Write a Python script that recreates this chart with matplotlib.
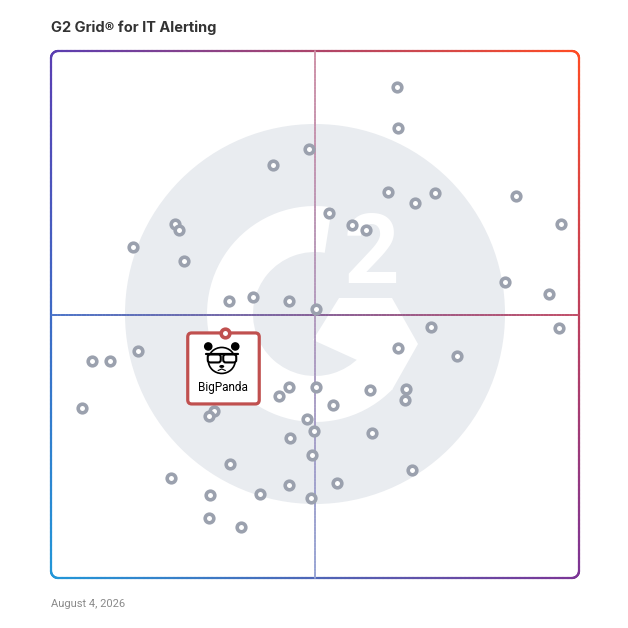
import matplotlib
matplotlib.use("Agg")
import matplotlib.pyplot as plt
import numpy as np
from matplotlib.collections import LineCollection
from matplotlib.patches import Circle, Wedge, Polygon, FancyBboxPatch, Ellipse
from matplotlib.transforms import IdentityTransform

# ---------------- data ----------------
title = "G2 Grid\u00ae for IT Alerting"
date_label = "August 4, 2026"

# x = satisfaction (0-100), y = market presence (0-100)
vendor_x = [65.5, 65.7, 48.9, 42.0, 63.8, 68.9, 72.8, 88.0, 96.6, 52.6,
            57.0, 59.7, 23.5, 24.2, 15.6, 25.1, 85.9, 94.3, 33.7, 38.3,
            45.1, 50.2, 96.2, 72.0, 65.7, 76.8, 16.5, 7.8, 11.2, 5.9,
            45.0, 43.1, 50.2, 60.5, 67.2, 67.1, 53.5, 30.9, 29.9, 48.4,
            49.9, 45.2, 60.8, 49.4, 33.9, 68.3, 22.8, 45.1, 54.2, 30.1,
            39.6, 49.2, 29.9, 36.0]
vendor_y = [93.2, 85.4, 81.4, 78.4, 73.3, 71.2, 73.1, 72.5, 67.2, 69.3,
            67.0, 66.0, 67.1, 66.0, 62.9, 60.1, 56.2, 53.9, 52.5, 53.4,
            52.6, 51.0, 47.4, 47.7, 43.7, 42.2, 43.1, 41.2, 41.2, 32.3,
            36.2, 34.6, 36.2, 35.6, 35.9, 33.7, 32.8, 31.6, 30.7, 30.1,
            27.9, 26.5, 27.6, 23.3, 21.6, 20.4, 18.9, 17.6, 18.1, 15.7,
            15.9, 15.1, 11.3, 9.7]

highlight_name = "BigPanda"
highlight_x = 33.0
highlight_y = 46.5

# ---------------- styles ----------------
GRAY = "#9ba1ae"
RED = "#c0504f"
WM = "#e9ecf0"
C_TL = np.array([0x5a, 0x3e, 0xb2]) / 255
C_TR = np.array([0xff, 0x4c, 0x24]) / 255
C_BL = np.array([0x22, 0x97, 0xd8]) / 255
C_BR = np.array([0x7c, 0x35, 0x96]) / 255


def bilinear(u, v):
    top = C_TL * (1 - u) + C_TR * u
    bot = C_BL * (1 - u) + C_BR * u
    return np.clip(bot * (1 - v) + top * v, 0, 1)


def white_mix(c, a):
    return c * a + (1 - a)


fig = plt.figure(figsize=(6.28, 6.28), dpi=100)
fig.patch.set_facecolor("white")

# ---------- watermark (decorative G2 logo), pixel coords, top origin ----------
bg = fig.add_axes([0, 0, 1, 1], zorder=0)
bg.set_xlim(0, 628)
bg.set_ylim(628, 0)
bg.axis("off")
cx, cy = 315, 314
bg.add_patch(Circle((cx, cy), 190, facecolor=WM, edgecolor="none"))
bg.add_patch(Wedge((cx, cy), 108, 44, 279, width=46, facecolor="white", edgecolor="none"))
bg.add_patch(Polygon([(339, 298), (392, 298), (418, 344), (392, 390), (357, 360), (313, 340)],
                     closed=True, facecolor="white", edgecolor="none"))
bg.text(372, 283, "2", fontsize=70, fontweight="bold", color="white",
        ha="center", va="baseline", family="Roboto")

# ---------- main axes ----------
ax = fig.add_axes([51 / 628, 50 / 628, 528 / 628, 527 / 628], zorder=1)
ax.set_xlim(0, 100)
ax.set_ylim(0, 100)
ax.axis("off")


def rounded_rect(x0, y0, x1, y1, r, n_edge=120, n_arc=16):
    pts = []
    def line(a, b):
        for t in np.linspace(0, 1, n_edge, endpoint=False):
            pts.append((a[0] + (b[0] - a[0]) * t, a[1] + (b[1] - a[1]) * t))
    def arc(c, a0, a1):
        for a in np.linspace(np.radians(a0), np.radians(a1), n_arc, endpoint=False):
            pts.append((c[0] + r * np.cos(a), c[1] + r * np.sin(a)))
    line((x0 + r, y1), (x1 - r, y1))
    arc((x1 - r, y1 - r), 90, 0)
    line((x1, y1 - r), (x1, y0 + r))
    arc((x1 - r, y0 + r), 0, -90)
    line((x1 - r, y0), (x0 + r, y0))
    arc((x0 + r, y0 + r), -90, -180)
    line((x0, y0 + r), (x0, y1 - r))
    arc((x0 + r, y1 - r), 180, 90)
    pts.append(pts[0])
    return np.array(pts)


def gradient_collection(pts, lw, alpha=1.0, z=2):
    segs = np.stack([pts[:-1], pts[1:]], axis=1)
    mids = segs.mean(axis=1)
    cols = [white_mix(bilinear(m[0] / 100, m[1] / 100), alpha) for m in mids]
    lc = LineCollection(segs, colors=cols, linewidths=lw, capstyle="round",
                        zorder=z, clip_on=False)
    ax.add_collection(lc)


frame = rounded_rect(0, 0, 100, 100, 1.35)
gradient_collection(frame, 1.6)

hline = np.column_stack([np.linspace(0, 100, 200), np.full(200, 50.0)])
gradient_collection(hline, 1.3, alpha=0.95)
vline = np.column_stack([np.full(200, 50.0), np.linspace(0, 100, 200)])
gradient_collection(vline, 1.3, alpha=0.6)

ax.scatter(vendor_x, vendor_y, s=6.2 ** 2, facecolor="white", edgecolor=GRAY,
           linewidths=2.6, zorder=4, clip_on=False)

# ---------- highlighted product card ----------
X, Y = ax.transData.transform((highlight_x, highlight_y))
ID = IdentityTransform()


def D(dx, dy):
    return (X + dx, Y - dy)


ax.add_patch(FancyBboxPatch(D(-37.5, 71), 71.5, 71, boxstyle="round,pad=0,rounding_size=4",
                            facecolor="white", edgecolor=RED, linewidth=2.3,
                            transform=ID, zorder=5, clip_on=False))
# panda icon
for ex in (-17.0, 10.0):
    ax.add_patch(Circle(D(ex, 13.5), 4.3, facecolor="black", edgecolor="none",
                        transform=ID, zorder=6, clip_on=False))
ax.add_patch(Ellipse(D(-3.5, 27.5), 27, 26, facecolor="white", edgecolor="black",
                     linewidth=1.2, transform=ID, zorder=6.1, clip_on=False))
for lx in (-17.5, -2.0):
    ax.add_patch(FancyBboxPatch(D(lx, 29.5), 13, 8, boxstyle="round,pad=0,rounding_size=2.5",
                                facecolor="white", edgecolor="black", linewidth=1.5,
                                transform=ID, zorder=6.2, clip_on=False))
ax.plot([D(-19.5, 20.8)[0], D(12.5, 20.8)[0]], [D(-19.5, 20.8)[1], D(12.5, 20.8)[1]],
        color="black", linewidth=1.6, transform=ID, zorder=6.3, clip_on=False,
        solid_capstyle="round")
ax.add_patch(Ellipse(D(-3.5, 33.5), 5, 3, facecolor="black", edgecolor="none",
                     transform=ID, zorder=6.3, clip_on=False))
ax.plot([D(-7, 37.5)[0], D(-3.5, 36)[0], D(0, 37.5)[0]],
        [D(-7, 37.5)[1], D(-3.5, 36)[1], D(0, 37.5)[1]],
        color="black", linewidth=0.8, transform=ID, zorder=6.3, clip_on=False)
ax.text(*D(-2, 55), highlight_name, transform=ID, ha="center", va="center",
        fontsize=8.5, color="black", family="Roboto", zorder=6.4)

ax.scatter([highlight_x], [highlight_y], s=6.2 ** 2, facecolor="white", edgecolor=RED,
           linewidths=2.6, zorder=7, clip_on=False)

# ---------- texts ----------
fig.text(51 / 628, 1 - 28 / 628, title, fontsize=10.5, fontweight="bold",
         color="#333333", va="center", ha="left", family="Inter")
fig.text(51 / 628, 1 - 604 / 628, date_label, fontsize=8, color="#8a8a8a",
         va="center", ha="left", family="Roboto")

fig.savefig("out.png", dpi=100, facecolor="white")
